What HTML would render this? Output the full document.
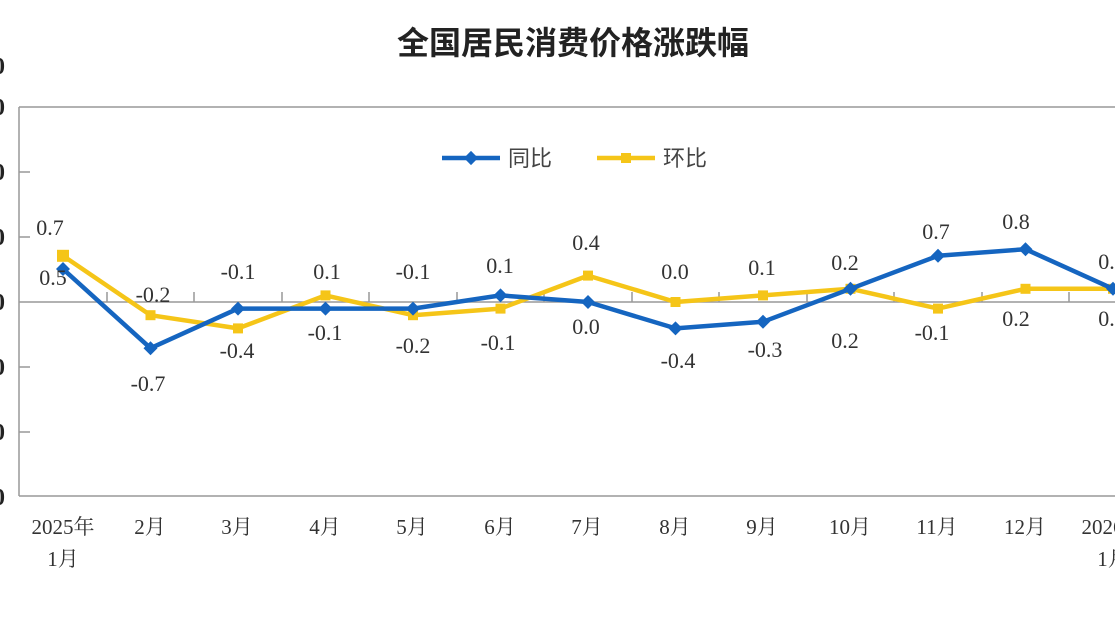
<!DOCTYPE html>
<html><head><meta charset="utf-8"><style>
html,body{margin:0;padding:0;background:#fff;width:1115px;height:627px;overflow:hidden}
svg{display:block}
.n{font-family:"Liberation Serif","Noto Serif CJK SC",serif;font-size:22px;fill:#333;text-anchor:middle}
.x{font-family:"Liberation Serif","Noto Serif CJK SC",serif;font-size:21px;fill:#333;text-anchor:middle}
</style></head><body>
<svg width="1115" height="627" viewBox="0 0 1115 627" xmlns="http://www.w3.org/2000/svg">
<text x="573" y="54" font-family="Liberation Sans,Noto Sans CJK SC,sans-serif" font-size="32" font-weight="bold" fill="#222" text-anchor="middle">全国居民消费价格涨跌幅</text>
<g font-family="Liberation Serif,serif" font-size="24" font-weight="bold" fill="#222">
<text x="-7" y="74">0</text><text x="-7" y="115">0</text><text x="-7" y="180">0</text><text x="-7" y="245">0</text><text x="-7" y="310">0</text><text x="-7" y="375">0</text><text x="-7" y="440">0</text><text x="-7" y="505">0</text>
</g>
<g stroke="#999" stroke-width="1.5" fill="none">
<line x1="19" y1="107" x2="1115" y2="107"/>
<line x1="19" y1="107" x2="19" y2="496"/>
<line x1="19" y1="496" x2="1115" y2="496"/>
<line x1="19" y1="302" x2="1115" y2="302"/>
<line x1="19" y1="172" x2="30" y2="172"/><line x1="19" y1="237" x2="30" y2="237"/><line x1="19" y1="367" x2="30" y2="367"/><line x1="19" y1="432" x2="30" y2="432"/>
<line x1="107" y1="302" x2="107" y2="292"/><line x1="194" y1="302" x2="194" y2="292"/><line x1="282" y1="302" x2="282" y2="292"/><line x1="369" y1="302" x2="369" y2="292"/><line x1="457" y1="302" x2="457" y2="292"/><line x1="544" y1="302" x2="544" y2="292"/><line x1="632" y1="302" x2="632" y2="292"/><line x1="719" y1="302" x2="719" y2="292"/><line x1="807" y1="302" x2="807" y2="292"/><line x1="894" y1="302" x2="894" y2="292"/><line x1="982" y1="302" x2="982" y2="292"/><line x1="1069" y1="302" x2="1069" y2="292"/>
</g>
<line x1="442" y1="158" x2="500" y2="158" stroke="#1565c0" stroke-width="4.5"/>
<rect x="466" y="153" width="10" height="10" fill="#1565c0" transform="rotate(45 471 158)"/>
<text x="508" y="166" font-family="Liberation Sans,Noto Sans CJK SC,sans-serif" font-size="22" fill="#444">同比</text>
<line x1="597" y1="158" x2="655" y2="158" stroke="#f5c518" stroke-width="4.5"/>
<rect x="621" y="153" width="10" height="10" fill="#f5c518"/>
<text x="663" y="166" font-family="Liberation Sans,Noto Sans CJK SC,sans-serif" font-size="22" fill="#444">环比</text>
<polyline fill="none" stroke="#f5c518" stroke-width="4.5" stroke-linejoin="round" points="63,255.8 150.5,315.2 238,328.4 325.5,295.4 413,315.2 500.5,308.6 588,275.6 675.5,302 763,295.4 850.5,288.8 938,308.6 1025.5,288.8 1113,288.8"/>
<g fill="#f5c518">
<rect x="57" y="249.8" width="12" height="12"/><rect x="145.5" y="310.2" width="10" height="10"/><rect x="233" y="323.4" width="10" height="10"/><rect x="320.5" y="290.4" width="10" height="10"/><rect x="408" y="310.2" width="10" height="10"/><rect x="495.5" y="303.6" width="10" height="10"/><rect x="583" y="270.6" width="10" height="10"/><rect x="670.5" y="297" width="10" height="10"/><rect x="758" y="290.4" width="10" height="10"/><rect x="845.5" y="283.8" width="10" height="10"/><rect x="933" y="303.6" width="10" height="10"/><rect x="1020.5" y="283.8" width="10" height="10"/><rect x="1108" y="283.8" width="10" height="10"/>
</g>
<polyline fill="none" stroke="#1565c0" stroke-width="4.5" stroke-linejoin="round" points="63,269 150.5,348.2 238,308.6 325.5,308.6 413,308.6 500.5,295.4 588,302 675.5,328.4 763,321.8 850.5,288.8 938,255.8 1025.5,249.2 1113,288.8"/>
<g fill="#1565c0">
<path d="M63,262l7,7l-7,7l-7,-7z"/><path d="M150.5,341.2l7,7l-7,7l-7,-7z"/><path d="M238,301.6l7,7l-7,7l-7,-7z"/><path d="M325.5,301.6l7,7l-7,7l-7,-7z"/><path d="M413,301.6l7,7l-7,7l-7,-7z"/><path d="M500.5,288.4l7,7l-7,7l-7,-7z"/><path d="M588,295l7,7l-7,7l-7,-7z"/><path d="M675.5,321.4l7,7l-7,7l-7,-7z"/><path d="M763,314.8l7,7l-7,7l-7,-7z"/><path d="M850.5,281.8l7,7l-7,7l-7,-7z"/><path d="M938,248.8l7,7l-7,7l-7,-7z"/><path d="M1025.5,242.2l7,7l-7,7l-7,-7z"/><path d="M1113,281.8l7,7l-7,7l-7,-7z"/>
</g>
<text class="n" x="50" y="235">0.7</text><text class="n" x="53" y="285">0.5</text>
<text class="n" x="153" y="302">-0.2</text><text class="n" x="148" y="391">-0.7</text>
<text class="n" x="238" y="279">-0.1</text><text class="n" x="237" y="358">-0.4</text>
<text class="n" x="327" y="279">0.1</text><text class="n" x="325" y="340">-0.1</text>
<text class="n" x="413" y="279">-0.1</text><text class="n" x="413" y="353">-0.2</text>
<text class="n" x="500" y="273">0.1</text><text class="n" x="498" y="350">-0.1</text>
<text class="n" x="586" y="250">0.4</text><text class="n" x="586" y="334">0.0</text>
<text class="n" x="675" y="279">0.0</text><text class="n" x="678" y="368">-0.4</text>
<text class="n" x="762" y="275">0.1</text><text class="n" x="765" y="357">-0.3</text>
<text class="n" x="845" y="270">0.2</text><text class="n" x="845" y="348">0.2</text>
<text class="n" x="936" y="239">0.7</text><text class="n" x="932" y="340">-0.1</text>
<text class="n" x="1016" y="229">0.8</text><text class="n" x="1016" y="326">0.2</text>
<text class="n" x="1112" y="269">0.2</text><text class="n" x="1112" y="326">0.2</text>
<text class="x" x="63" y="534">2025年</text><text class="x" x="63" y="566">1月</text>
<text class="x" x="150" y="534">2月</text><text class="x" x="237" y="534">3月</text><text class="x" x="325" y="534">4月</text><text class="x" x="412" y="534">5月</text><text class="x" x="500" y="534">6月</text><text class="x" x="587" y="534">7月</text><text class="x" x="675" y="534">8月</text><text class="x" x="762" y="534">9月</text><text class="x" x="850" y="534">10月</text><text class="x" x="937" y="534">11月</text><text class="x" x="1025" y="534">12月</text>
<text class="x" x="1113" y="534">2026年</text><text class="x" x="1113" y="566">1月</text>
</svg>
</body></html>
